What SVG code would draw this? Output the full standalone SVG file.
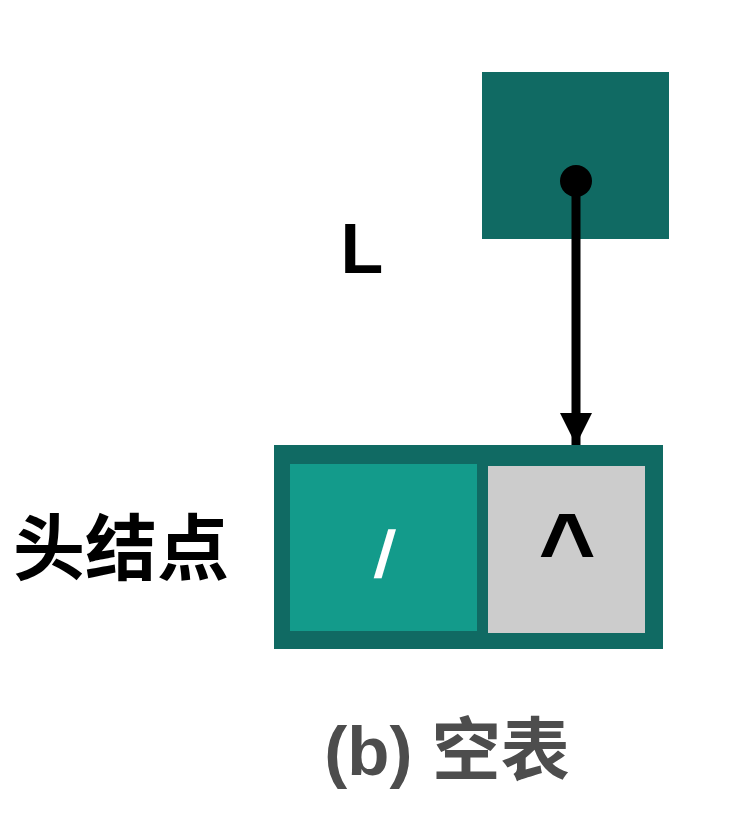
<svg xmlns="http://www.w3.org/2000/svg" width="750" height="840" viewBox="0 0 750 840">
<style>
.dark{fill:#106A63}
.t{font-family:"Liberation Sans","Noto Sans CJK SC",sans-serif;font-weight:bold}
</style>
<defs>
<marker id="arr" markerUnits="userSpaceOnUse" markerWidth="40" markerHeight="32" refX="40" refY="20" orient="auto" viewBox="0 0 40 40">
<path d="M0,0 L40,20 L0,40 Z" fill="#000"/>
</marker>
</defs>
<rect width="750" height="840" fill="#fff"/>
<g id="pointerL">
<rect class="dark" x="482" y="72" width="187" height="167"/>
<text class="t" x="362" y="273" font-size="70" text-anchor="middle" fill="#000">L</text>
</g>
<g id="headNode">
<rect class="dark" x="274" y="445" width="389" height="204"/>
<rect x="290" y="464" width="187" height="167" fill="#139B8B"/>
<rect x="488" y="466" width="157" height="167" fill="#CCCCCC"/>
<text class="t" x="383" y="577" font-size="66" text-anchor="middle" fill="#fff" transform="skewX(-6) translate(60,0)">/</text>
<text class="t" x="567" y="582" font-size="98" text-anchor="middle" fill="#000">^</text>
<text class="t" x="121" y="574" font-size="72" text-anchor="middle" fill="#000">头结点</text>
</g>
<g id="connectors">
<circle cx="576" cy="181" r="16" fill="#000"/>
<line x1="576" y1="181" x2="576" y2="445" stroke="#000" stroke-width="9" marker-end="url(#arr)"/>
</g>
<text class="t" x="447" y="775" font-size="69" text-anchor="middle" fill="#4D4D4D">(b) 空表</text>
</svg>
